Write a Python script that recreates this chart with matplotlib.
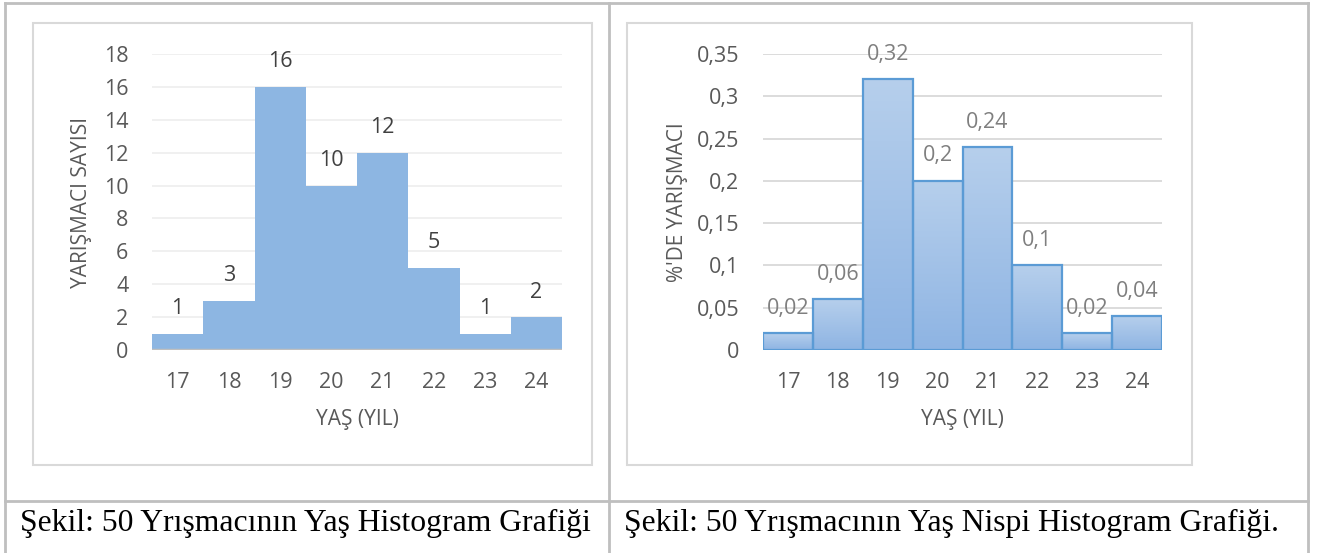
import numpy as np
import matplotlib
matplotlib.use("Agg")
import matplotlib.pyplot as plt
from matplotlib.patches import Rectangle
from matplotlib.lines import Line2D

ages = [17, 18, 19, 20, 21, 22, 23, 24]
counts = [1, 3, 16, 10, 12, 5, 1, 2]
relative = [0.02, 0.06, 0.32, 0.2, 0.24, 0.1, 0.02, 0.04]
count_ticks = [0, 2, 4, 6, 8, 10, 12, 14, 16, 18]
rel_ticks = [0, 0.05, 0.1, 0.15, 0.2, 0.25, 0.3, 0.35]

x_title = "YAŞ (YIL)"
left_ytitle = "YARIŞMACI SAYISI"
right_ytitle = "%'DE YARIŞMACI"
left_caption = "Şekil: 50 Yrışmacının Yaş Histogram Grafiği"
right_caption = "Şekil: 50 Yrışmacının Yaş Nispi Histogram Grafiği."

W, H = 1322, 553
plt.rcParams['font.family'] = ['Open Sans', 'DejaVu Sans']

fig = plt.figure(figsize=(W / 100, H / 100), dpi=100)


def fx(px):
    return px / W


def fy(py):
    return 1 - py / H


def comma(v):
    return f"{v:g}".replace('.', ',')


# table lines
tbl = '#BFBFBF'
for xs, ys in [((5, 1308), (3, 3)), ((5, 1308), (501, 501)),
               ((5, 5), (3, 553)), ((609, 609), (3, 553)), ((1308, 1308), (3, 553))]:
    fig.add_artist(Line2D([fx(xs[0]), fx(xs[1])], [fy(ys[0]), fy(ys[1])],
                          color=tbl, lw=2, transform=fig.transFigure))

# chart frames
for x0, x1 in [(33, 592), (627, 1192)]:
    fig.add_artist(Rectangle((fx(x0), fy(465)), fx(x1 - x0), (465 - 23) / H,
                             transform=fig.transFigure, fill=False,
                             edgecolor='#D9D9D9', lw=1.5))

tick_color = '#595959'
lab_size = 15.5
title_size = 15


def setup(ax, ticks, ylim, grid_color):
    ax.set_xlim(16.5, 24.5)
    ax.set_ylim(*ylim)
    ax.set_yticks(ticks)
    ax.set_yticklabels([comma(t) for t in ticks])
    ax.set_xticks(ages)
    ax.set_xticklabels([str(a) for a in ages])
    ax.tick_params(length=0, labelsize=lab_size, labelcolor=tick_color, pad=17)
    ax.tick_params(axis='x', pad=16)
    for s in ax.spines.values():
        s.set_visible(False)
    ax.grid(axis='y', color=grid_color, lw=1.3, zorder=0)
    ax.set_axisbelow(True)


# left: frequency histogram
ax1 = fig.add_axes([fx(152), fy(350), fx(562 - 152), (350 - 54) / H])
setup(ax1, count_ticks, (0, 18), '#EFEFEF')
ax1.bar(ages, counts, width=1.0, color='#8DB6E2', edgecolor='none', zorder=2)
ax1.axhline(0, color='#BFBFBF', lw=2.5, zorder=3)
for a, c in zip(ages, counts):
    ax1.annotate(str(c), (a, c), xytext=(0, 18), textcoords='offset points',
                 ha='center', va='center', fontsize=lab_size, color='#404040')

# right: relative histogram with gradient bars
ax2 = fig.add_axes([fx(763), fy(350), fx(1162 - 763), (350 - 54) / H])
setup(ax2, rel_ticks, (0, 0.35), '#D9D9D9')
bars = ax2.bar(ages, relative, width=1.0, facecolor='none',
               edgecolor='#5B9BD5', lw=1.6, zorder=4)
grad = np.linspace(0, 1, 100).reshape(-1, 1)
cmap = matplotlib.colors.LinearSegmentedColormap.from_list('g', ['#8EB4E3', '#B6CFEC'])
for b in bars:
    x0, y0 = b.get_x(), b.get_y()
    im = ax2.imshow(grad, extent=[x0, x0 + b.get_width(), y0, y0 + b.get_height()],
                    origin='lower', cmap=cmap, aspect='auto', zorder=3)
    im.set_clip_path(b)
ax2.set_xlim(16.5, 24.5)
ax2.set_ylim(0, 0.35)
ax2.axhline(0, color='#D9D9D9', lw=1.5, zorder=2)
for a, r in zip(ages, relative):
    ax2.annotate(comma(r), (a, r), xytext=(0, 18), textcoords='offset points',
                 ha='center', va='center', fontsize=lab_size, color='#7F7F7F', zorder=5)

# axis titles
for cx, t in [(357, x_title), (962, x_title)]:
    fig.text(fx(cx), fy(420), t, ha='center', va='center', fontsize=title_size, color=tick_color)
fig.text(fx(82), fy(202), left_ytitle, rotation=90, ha='center', va='center',
         fontsize=title_size, color=tick_color)
fig.text(fx(677), fy(202), right_ytitle, rotation=90, ha='center', va='center',
         fontsize=title_size, color=tick_color)

# captions
fig.text(fx(20), fy(531), left_caption, ha='left', va='baseline',
         fontsize=22.8, family='Liberation Serif', color='black')
fig.text(fx(624), fy(531), right_caption, ha='left', va='baseline',
         fontsize=22.8, family='Liberation Serif', color='black')

fig.savefig('out.png', dpi=100, facecolor='white')
